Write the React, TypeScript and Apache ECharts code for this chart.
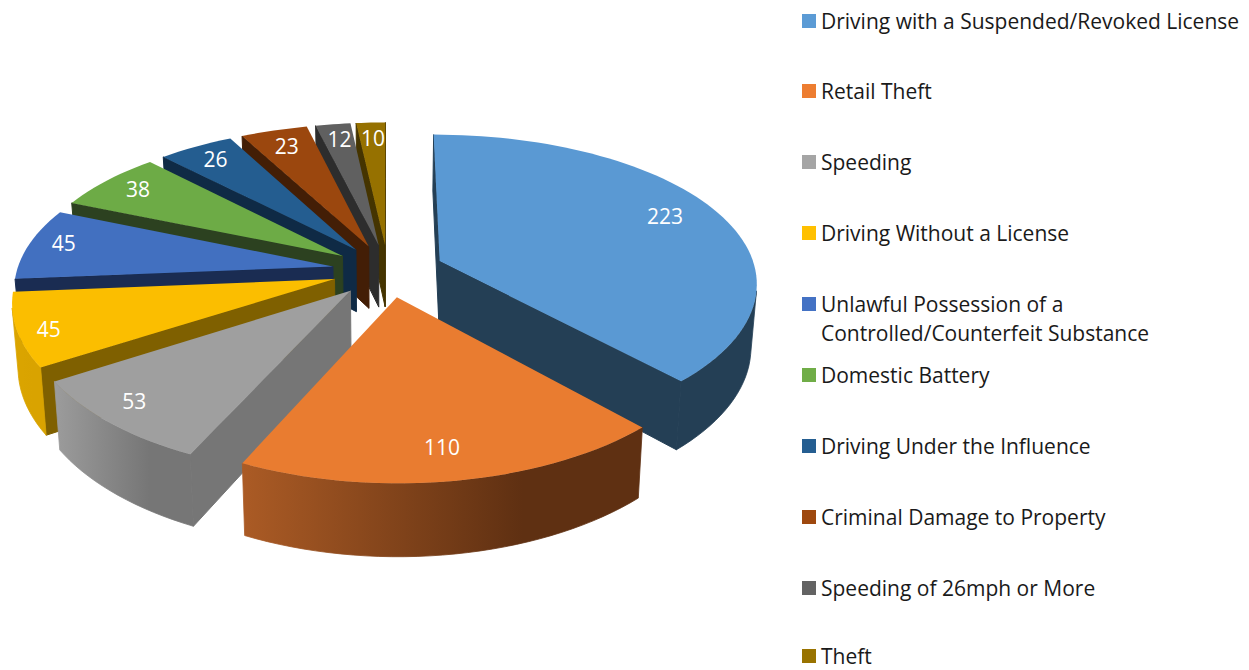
import React, { useEffect, useRef } from "react";
import * as echarts from "echarts";

const categories = [
  "Driving with a Suspended/Revoked License",
  "Retail Theft",
  "Speeding",
  "Driving Without a License",
  "Unlawful Possession of a Controlled/Counterfeit Substance",
  "Domestic Battery",
  "Driving Under the Influence",
  "Criminal Damage to Property",
  "Speeding of 26mph or More",
  "Theft",
];
const values = [223, 110, 53, 45, 45, 38, 26, 23, 12, 10];
const legendColors = ["#5B9BD5", "#ED7D31", "#A5A5A5", "#FFC000", "#4472C4", "#70AD47", "#255E91", "#9E480E", "#636363", "#997300"];
const topColors = ["#5A99D3", "#E97C30", "#9F9F9F", "#FBBE00", "#4270C0", "#6DAB46", "#245D90", "#9B470E", "#606060", "#967100"];
const wallColors = ["#243F55", "#5F3012", "#767676", "#7F6000", "#1A2C52", "#2C4120", "#0F2A45", "#431E06", "#2D2D2D", "#453400"];
const arcLeftColors = ["#243F55", "#AB5B25", "#9C9C9C", "#DBA500", "#1A2C52", "#2C4120", "#0F2A45", "#431E06", "#2D2D2D", "#453400"];
const arcRightColors = ["#243F55", "#5F3012", "#767676", "#D9A300", "#1A2C52", "#2C4120", "#0F2A45", "#431E06", "#2D2D2D", "#453400"];
const labelRadius = [0.81, 0.83, 0.9, 0.9, 0.885, 0.86, 0.865, 0.85, 0.84, 0.83];
const labelDx = [0, -3, -2, -1, 0, 0, 0, 0, 0, 0];
const labelDy = [-4, 2, -7, 4, -3, -1, 0, 0, -3, -3];
const paintOrder = [9, 8, 7, 6, 5, 4, 3, 0, 2, 1];
const legendCenters = [21, 91, 162, 233, 304, 375, 446, 517, 588, 656];

const total = values.reduce((a, b) => a + b, 0);
const FONT = "'Open Sans'";
const CX = 388, CY = 270.6, R = 316, EXPLODE = 56, K = 0.47, DIST = 2067, DIST_X = 2350, H = 63, SHRINK = 0.984;
const rad = (d: number) => (d * Math.PI) / 180;

function proj(wx: number, wy: number, bottom = false): number[] {
  const s = 1 / (1 - wy / DIST);
  const sx = 1 / (1 - wy / DIST_X);
  const x = CX + wx * sx;
  const y = CY + K * wy * s;
  if (!bottom) return [x, y];
  return [CX + (x - CX) * SHRINK, CY + (y - CY) * SHRINK + H * s];
}

function renderSlice(i: number) {
  const before = values.slice(0, i).reduce((a, b) => a + b, 0);
  const a0 = (before / total) * 360;
  const a1 = ((before + values[i]) / total) * 360;
  const mid = (a0 + a1) / 2;
  const ax = EXPLODE * Math.sin(rad(mid));
  const ay = -EXPLODE * Math.cos(rad(mid));
  const outer = (a: number): number[] => [ax + R * Math.sin(rad(a)), ay - R * Math.cos(rad(a))];
  const children: any[] = [];
  const N = Math.max(6, Math.ceil((a1 - a0) / 2));
  const angles: number[] = [];
  for (let k = 0; k <= N; k++) angles.push(a0 + ((a1 - a0) * k) / N);

  const wallVisible = (a: number, sign: number) => {
    const n = rad(a + sign * 90);
    return Math.sin(n) * (0 - ax) - Math.cos(n) * (DIST - ay) > 0;
  };
  const wall = (a: number) => {
    const p = outer(a);
    return {
      type: "polygon",
      silent: true,
      shape: { points: [proj(ax, ay), proj(p[0], p[1]), proj(p[0], p[1], true), proj(ax, ay, true)] },
      style: { fill: wallColors[i], stroke: wallColors[i], lineWidth: 1 },
    };
  };
  if (wallVisible(a0, -1)) children.push(wall(a0));
  if (wallVisible(a1, 1)) children.push(wall(a1));

  // outer rim: only the part that faces the viewer
  const rimAngles = angles.filter((a) => {
    const p = outer(a);
    return Math.sin(rad(a)) * (0 - p[0]) - Math.cos(rad(a)) * (DIST - p[1]) > 0;
  });
  if (rimAngles.length > 1) {
    const topEdge = rimAngles.map((a) => { const p = outer(a); return proj(p[0], p[1]); });
    const botEdge = rimAngles.map((a) => { const p = outer(a); return proj(p[0], p[1], true); }).reverse();
    const xs = topEdge.map((p) => p[0]);
    const minX = Math.min(...xs), maxX = Math.max(...xs);
    const grad = {
      type: "linear", global: true, x: minX, y: 0, x2: maxX, y2: 0,
      colorStops: [
        { offset: 0, color: arcLeftColors[i] },
        { offset: 0.7, color: arcRightColors[i] },
        { offset: 1, color: arcRightColors[i] },
      ],
    };
    children.push({
      type: "polygon",
      silent: true,
      shape: { points: [...topEdge, ...botEdge] },
      style: { fill: grad, stroke: grad, lineWidth: 0.8 },
    });
  }

  // top face
  const topPts = [proj(ax, ay), ...angles.map((a) => { const p = outer(a); return proj(p[0], p[1]); })];
  children.push({
    type: "polygon",
    silent: true,
    shape: { points: topPts },
    style: { fill: topColors[i] },
  });

  // value label
  const lr = labelRadius[i] * R;
  const lp = proj(ax + lr * Math.sin(rad(mid)), ay - lr * Math.cos(rad(mid)));
  children.push({
    type: "text",
    silent: true,
    x: lp[0] + labelDx[i],
    y: lp[1] + labelDy[i],
    z2: 10,
    style: { text: String(values[i]), fill: "#FFFFFF", font: `21px ${FONT}`, align: "center", verticalAlign: "middle" },
  });
  return { type: "group", children };
}

export default function App() {
  const ref = useRef<HTMLDivElement>(null);
  useEffect(() => {
    document.body.style.margin = "0";
    const chart = echarts.init(ref.current!, undefined, { renderer: "svg" });
    const textStyle = { color: "#1A1A1A", fontFamily: FONT, fontSize: 21 };
    chart.setOption({
      animation: false,
      backgroundColor: "#FFFFFF",
      legend: categories.map((name, i) => ({
        data: [name],
        left: 802,
        top: legendCenters[i] - 11,
        padding: 0,
        itemWidth: 14,
        itemHeight: 14,
        icon: "rect",
        selectedMode: false,
        orient: "vertical",
        textStyle: { ...textStyle, lineHeight: 22 },
        formatter: (n: string) => (n.startsWith("Unlawful") ? "Unlawful Possession of a" : n),
      })),
      graphic: [
        {
          type: "text",
          left: 821,
          top: 322,
          silent: true,
          style: { text: "Controlled/Counterfeit Substance", fill: "#1A1A1A", font: `21px ${FONT}`, lineHeight: 22 },
        },
      ],
      series: paintOrder.map((i) => ({
        type: "custom",
        name: categories[i],
        coordinateSystem: "none",
        itemStyle: { color: legendColors[i] },
        data: [values[i]],
        renderItem: () => renderSlice(i),
      })),
    });
    return () => chart.dispose();
  }, []);
  return <div ref={ref} style={{ position: "absolute", left: 0, top: 0, width: 1249, height: 670 }} />;
}
